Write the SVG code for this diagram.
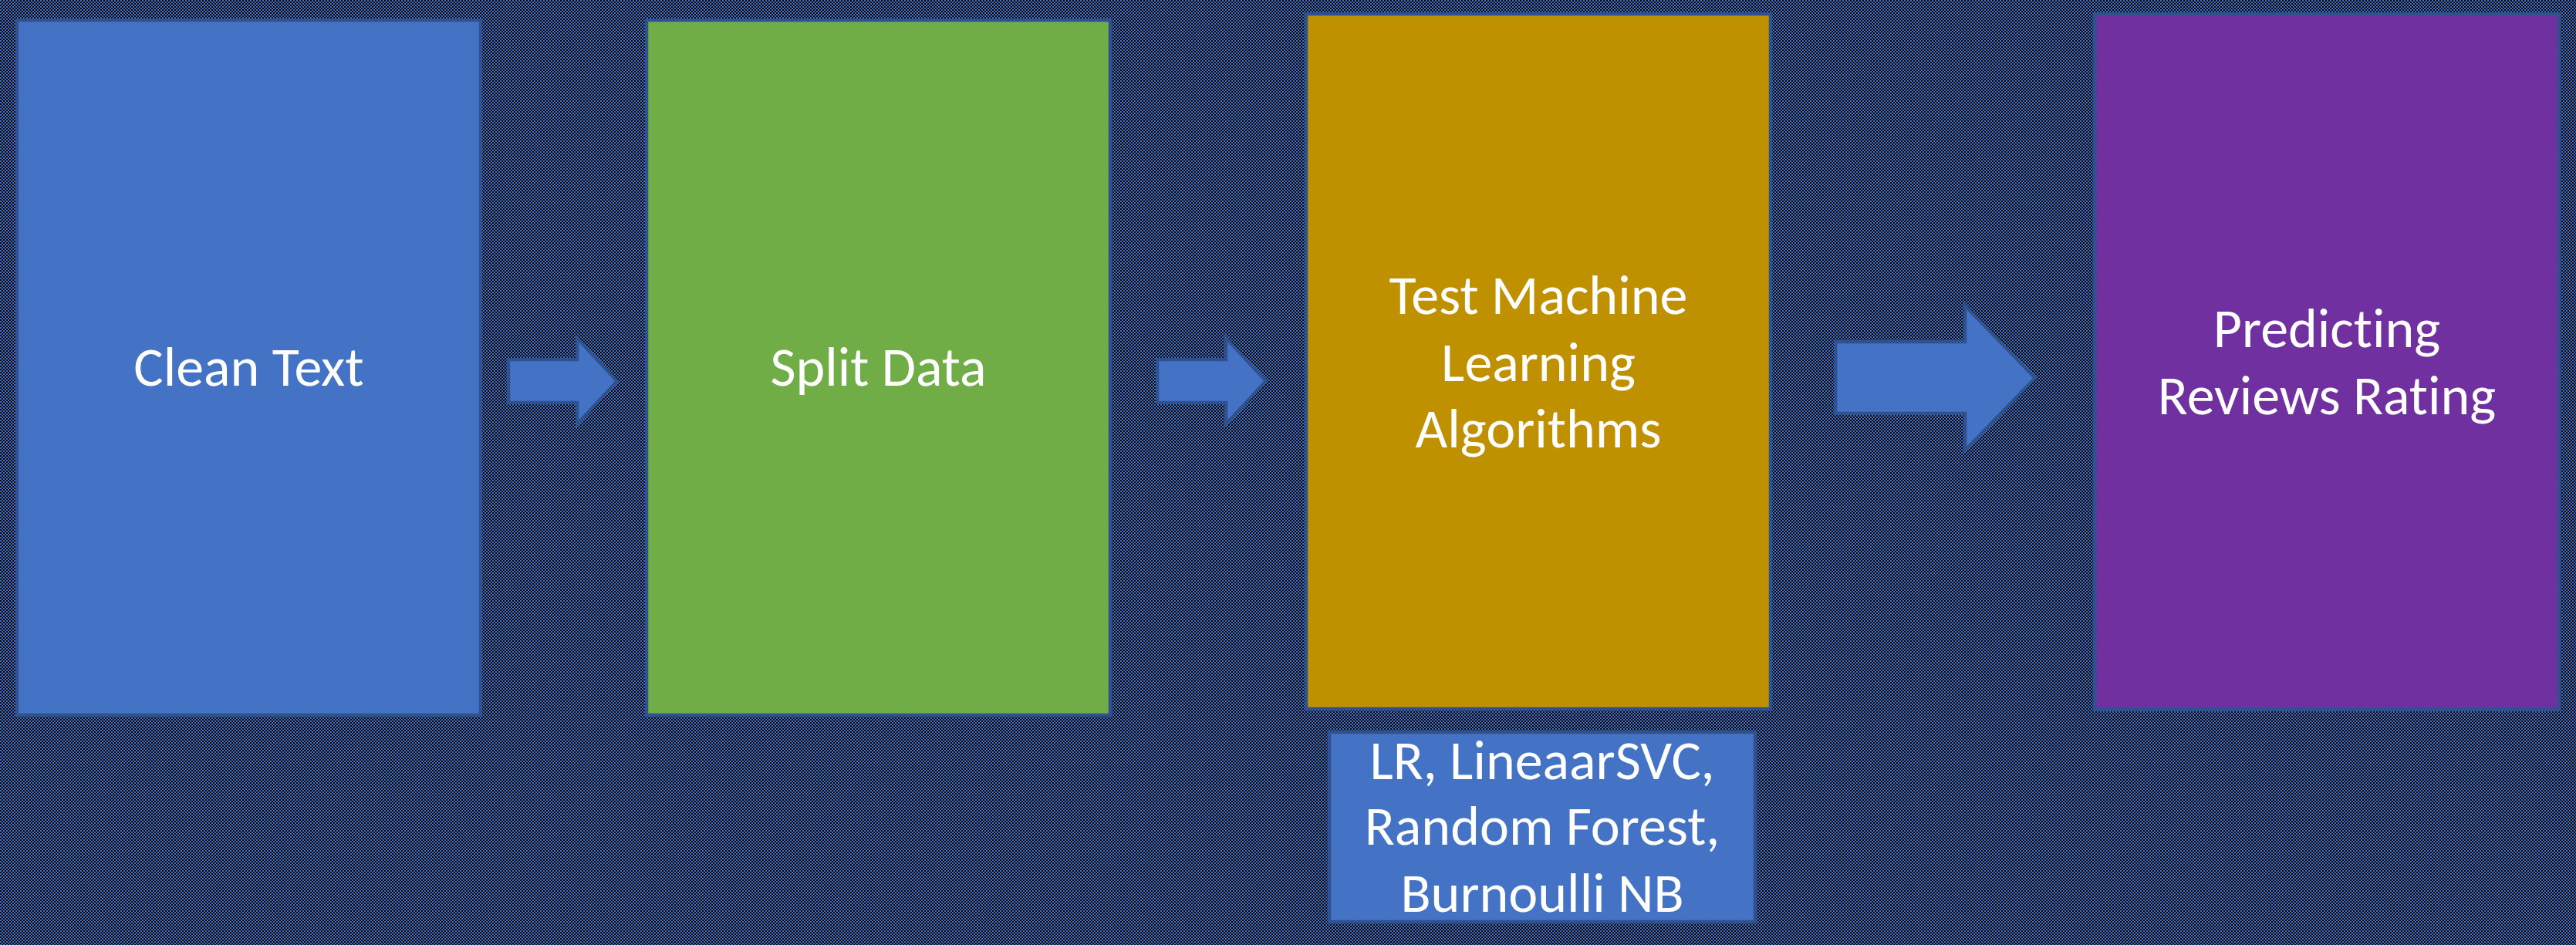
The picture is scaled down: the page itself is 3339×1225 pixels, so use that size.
<svg xmlns="http://www.w3.org/2000/svg" width="3339" height="1225" viewBox="0 0 3339 1225">
<defs>
<pattern id="checker" patternUnits="userSpaceOnUse" x="0" y="0" width="4" height="4">
<rect width="4" height="4" fill="#000000"/>
<rect x="0" y="0" width="2" height="2" fill="#4472C4"/>
<rect x="2" y="2" width="2" height="2" fill="#4472C4"/>
</pattern>
</defs>
<style>
.box{stroke:#2F528F;stroke-width:4.5}
.blue{fill:#4472C4}
.green{fill:#70AD47}
.gold{fill:#BF9000}
.purple{fill:#7030A0}
.arrow{fill:#4472C4;stroke:#2F528F;stroke-width:4.5;stroke-linejoin:miter}
.lbl{fill:#FFFFFF;font-family:Carlito,Calibri,"Liberation Sans",Arial,sans-serif;font-size:72px;text-anchor:middle;font-variant-ligatures:none;font-feature-settings:"liga" 0}
</style>
<rect x="0" y="0" width="3339" height="1225" fill="url(#checker)"/>
<g id="connectors">
<path class="arrow" d="M659,466 H748 V438 L800,494 L748,550 V522 H659 Z"/>
<path class="arrow" d="M1500,466 H1589 V438 L1641,494 L1589,550 V522 H1500 Z"/>
<path class="arrow" d="M2379,443 H2547 V396 L2638,490 L2547,584 V536 H2379 Z"/>
</g>
<g id="clean-text">
<rect class="box blue" x="22" y="26" width="601" height="901"/>
<text class="lbl" x="322.5" y="500">Clean Text</text>
</g>
<g id="split-data">
<rect class="box green" x="838" y="26" width="601" height="901"/>
<text class="lbl" x="1138.5" y="500">Split Data</text>
</g>
<g id="test-ml">
<rect class="box gold" x="1693" y="18" width="602" height="901"/>
<text class="lbl" x="1994" y="407">Test Machine</text>
<text class="lbl" x="1994" y="494">Learning</text>
<text class="lbl" x="1994" y="580">Algorithms</text>
</g>
<g id="algorithms">
<rect class="box blue" x="1723" y="949" width="552" height="246"/>
<text class="lbl" x="1999" y="1010">LR, LineaarSVC,</text>
<text class="lbl" x="1999" y="1095">Random Forest,</text>
<text class="lbl" x="1999" y="1182">Burnoulli NB</text>
</g>
<g id="predicting">
<rect class="box purple" x="2715" y="18" width="602" height="902"/>
<text class="lbl" x="3016" y="450">Predicting</text>
<text class="lbl" x="3016" y="537">Reviews Rating</text>
</g>
</svg>
